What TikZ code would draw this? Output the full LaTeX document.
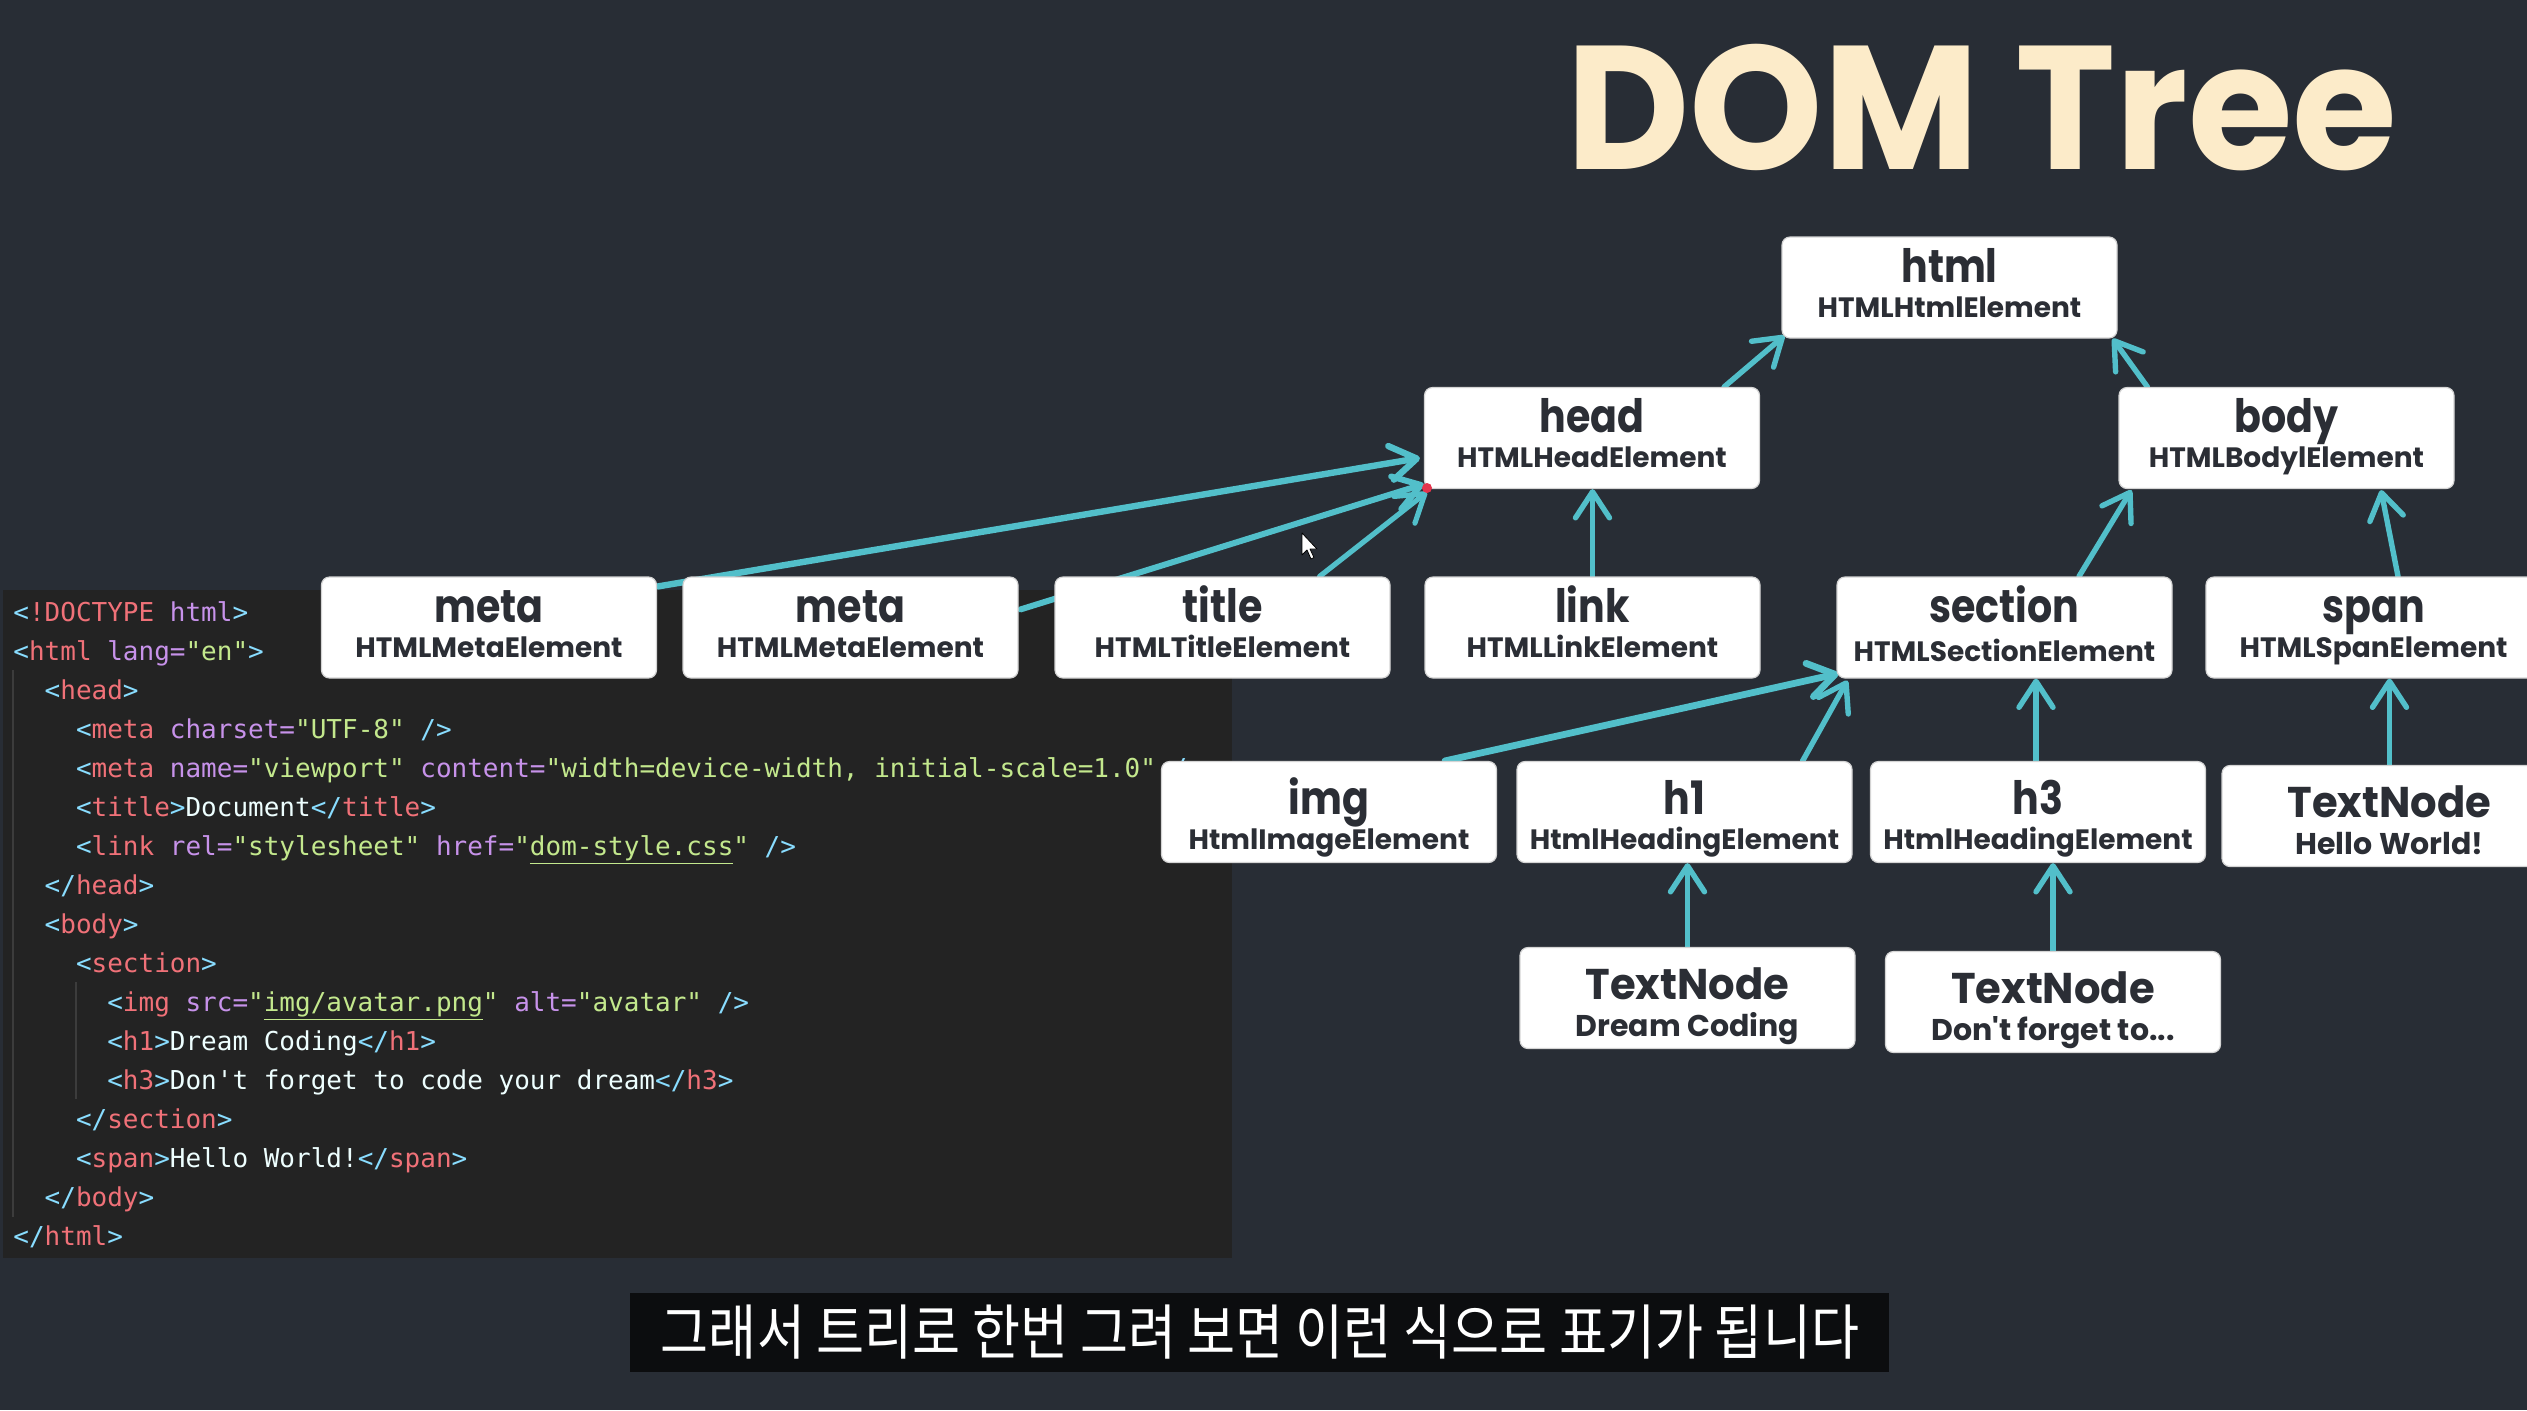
\documentclass[tikz,border=0pt]{standalone}
\usepackage{fontspec}
\usepackage{graphicx}
\usetikzlibrary{arrows.meta,calc}
\newfontfamily\popfont{Poppins}
\newfontfamily\codefont{DejaVu Sans Mono}
\newfontfamily\krfont{Noto Sans CJK KR}
\definecolor{bgc}{HTML}{282D35}
\definecolor{panelc}{HTML}{232323}
\definecolor{arrowc}{HTML}{52BFCA}
\definecolor{boxtxt}{HTML}{2B2E35}
\definecolor{boxedge}{HTML}{D4D4D4}
\definecolor{titlec}{HTML}{FCEBC9}
\definecolor{subbg}{HTML}{0C0D0F}
\definecolor{cBr}{HTML}{89DDFF}
\definecolor{cTag}{HTML}{F07178}
\definecolor{cAtt}{HTML}{C792EA}
\definecolor{cStr}{HTML}{C3E88D}
\definecolor{cTxt}{HTML}{EEFFFF}
\definecolor{guidec}{HTML}{3C3C3C}
\definecolor{reddot}{HTML}{E3344C}
\newcommand\kB[1]{\textcolor{cBr}{#1}}
\newcommand\kT[1]{\textcolor{cTag}{#1}}
\newcommand\kA[1]{\textcolor{cAtt}{#1}}
\newcommand\kS[1]{\textcolor{cStr}{#1}}
\newcommand\kW[1]{\textcolor{cTxt}{#1}}
\pgfdeclarelayer{bglayer}
\pgfdeclarelayer{arrowlayer}
\pgfsetlayers{bglayer,arrowlayer,main}
\tikzset{
  dbox/.style={fill=white, draw=boxedge, line width=0.6pt, rounded corners=4pt,
    minimum width=167.5pt, minimum height=50.5pt, inner sep=0pt},
  mainlbl/.style={anchor=base, inner sep=0pt, text=boxtxt,
    font=\popfont\bfseries\fontsize{23pt}{23pt}\selectfont},
  sublbl/.style={anchor=base, inner sep=0pt, text=boxtxt,
    font=\popfont\bfseries\fontsize{14pt}{14pt}\selectfont},
  tnlbl/.style={anchor=base, inner sep=0pt, text=boxtxt,
    font=\popfont\bfseries\fontsize{21.5pt}{21.5pt}\selectfont},
  tnsub/.style={anchor=base, inner sep=0pt, text=boxtxt,
    font=\popfont\bfseries\fontsize{15pt}{15pt}\selectfont},
  codeln/.style={anchor=base west, inner sep=0pt,
    font=\codefont\fontsize{13pt}{13pt}\selectfont},
  arr/.style={draw=arrowc, line width=2.7pt, line cap=round, line join=round,
    -{Straight Barb[length=13pt,width=17pt,round]}},
}
% optional arg 1: main baseline offset, 2: sub baseline offset
\newcommand\mkel[7][46]{%
  \node[dbox] (#3) at (#4,#5) {};
  \node[mainlbl] (#3-m) at ($(#3.north)+(0,#1)$) {\scalebox{0.86}[1]{#6}};
  \node[sublbl] (#3-s) at ($(#3.north)+(0,#2)$) {#7};
}
\newcommand\mktn[4]{%
  \node[dbox] (#1) at (#2,#3) {};
  \node[tnlbl] (#1-m) at ($(#1.north)+(0,53)$) {\scalebox{0.97}[1]{TextNode}};
  \node[tnsub] (#1-s) at ($(#1.north)+(0,90)$) {#4};
}
\begin{document}
\begin{tikzpicture}[x=0.5pt,y=-0.5pt]
\useasboundingbox (0,0) rectangle (2527,1410);
\begin{pgfonlayer}{bglayer}
\fill[bgc] (0,0) rectangle (2527,1410);
\fill[panelc] (3,590) rectangle (1232,1258);
\draw[guidec, line width=1pt] (13,670) -- (13,1217);
\draw[guidec, line width=1pt] (76,982) -- (76,1099);
\node[codeln] (c1) at (13,621) {\kB{<}\kT{!DOCTYPE} \kA{html}\kB{>}};
\node[codeln] (c2) at (13,660) {\kB{<}\kT{html} \kA{lang=}\kS{"en"}\kB{>}};
\node[codeln] (c3) at (44.3,699) {\kB{<}\kT{head}\kB{>}};
\node[codeln] (c4) at (75.6,738) {\kB{<}\kT{meta} \kA{charset=}\kS{"UTF-8"} \kB{/>}};
\node[codeln] (c5) at (75.6,777) {\kB{<}\kT{meta} \kA{name=}\kS{"viewport"} \kA{content=}\kS{"width=device-width, initial-scale=1.0"} \kB{/>}};
\node[codeln] (c6) at (75.6,816) {\kB{<}\kT{title}\kB{>}\kW{Document}\kB{</}\kT{title}\kB{>}};
\node[codeln] (c7) at (75.6,855) {\kB{<}\kT{link} \kA{rel=}\kS{"stylesheet"} \kA{href=}\kS{"\underline{dom-style.css}"} \kB{/>}};
\node[codeln] (c8) at (44.3,894) {\kB{</}\kT{head}\kB{>}};
\node[codeln] (c9) at (44.3,933) {\kB{<}\kT{body}\kB{>}};
\node[codeln] (c10) at (75.6,972) {\kB{<}\kT{section}\kB{>}};
\node[codeln] (c11) at (106.9,1011) {\kB{<}\kT{img} \kA{src=}\kS{"\underline{img/avatar.png}"} \kA{alt=}\kS{"avatar"} \kB{/>}};
\node[codeln] (c12) at (106.9,1050) {\kB{<}\kT{h1}\kB{>}\kW{Dream Coding}\kB{</}\kT{h1}\kB{>}};
\node[codeln] (c13) at (106.9,1089) {\kB{<}\kT{h3}\kB{>}\kW{Don't forget to code your dream}\kB{</}\kT{h3}\kB{>}};
\node[codeln] (c14) at (75.6,1128) {\kB{</}\kT{section}\kB{>}};
\node[codeln] (c15) at (75.6,1167) {\kB{<}\kT{span}\kB{>}\kW{Hello World!}\kB{</}\kT{span}\kB{>}};
\node[codeln] (c16) at (44.3,1206) {\kB{</}\kT{body}\kB{>}};
\node[codeln] (c17) at (13,1245) {\kB{</}\kT{html}\kB{>}};
\end{pgfonlayer}
% title
\node[anchor=base west, inner sep=0pt, text=titlec, font=\popfont\bfseries\fontsize{88pt}{88pt}\selectfont] (ttl) at (1566,169) {\scalebox{0.965}[1]{DOM Tree}};
% boxes
\mkel{81}{html}{1949.5}{287.5}{html}{HTMLHtmlElement}
\mkel{81}{head}{1592}{438}{head}{HTMLHeadElement}
\mkel{81}{body}{2286.5}{438}{body}{HTMLBodylElement}
\mkel{81}{meta1}{489}{627.5}{meta}{HTMLMetaElement}
\mkel{81}{meta2}{850.5}{627.5}{meta}{HTMLMetaElement}
\mkel{81}{title}{1222.5}{627.5}{title}{HTMLTitleElement}
\mkel{81}{link}{1592.5}{627.5}{link}{HTMLLinkElement}
\mkel{85}{section}{2004.5}{627.5}{section}{HTMLSectionElement}
\mkel{81}{span}{2373.5}{627.5}{span}{HTMLSpanElement}
\mkel[54]{89}{img}{1329}{812}{img}{HtmlImageElement}
\mkel[54]{89}{h1}{1684.5}{812}{h1}{HtmlHeadingElement}
\mkel[54]{89}{h3}{2038}{812}{h3}{HtmlHeadingElement}
\mktn{hello}{2389.5}{816}{Hello World!}
\mktn{dream}{1687.5}{998}{Dream Coding}
\mktn{dont}{2053}{1002}{Don't forget to...}
% connectors
\begin{pgfonlayer}{arrowlayer}
\draw[arr, line width=3.2pt] ($(meta1.north east)+(1,10)$) -- ($(head.west)+(-4,20)$);
\draw[arr, line width=3pt] ($(meta2.north east)+(2,33)$) -- ($(head.south west)+(0,-5)$);
\draw[arr, line width=2.6pt] ($(title.north east)+(-71,0)$) -- ($(head.south west)+(3,3)$);
\draw[arr] ($(head.north east)+(-36,0)$) -- ($(html.south west)+(3,-3)$);
\draw[arr] ($(body.north west)+(29,0)$) -- ($(html.south east)+(-5,0)$);
\draw[arr] (link.north) -- (link.north |- head.south);
\draw[arr] ($(section.north)+(74.5,0)$) -- ($(body.south west)+(13,1)$);
\draw[arr] ($(span.north)+(24.5,0)$) -- ($(body.south)+(94.5,1)$);
\draw[arr, line width=3.4pt] ($(img.north)+(116,0)$) -- ($(section.south west)+(2,-5)$);
\draw[arr] ($(h1.north east)+(-50,0)$) -- ($(section.south west)+(11,2)$);
\draw[arr] ($(h3.north)+(-2,0)$) -- ($(section.south)+(31.5,0)$);
\draw[arr] (hello.north) -- (hello.north |- span.south);
\draw[arr] (dream.north) -- (dream.north |- h1.south);
\draw[arr] (dont.north) -- (dont.north |- h3.south);
\end{pgfonlayer}
\fill[reddot] (1427,488) circle[radius=2.5pt];
\draw[fill=white, draw=black, line width=0.4pt, line join=round] (1302,533) -- ++(0,22) -- ++(5,-5) -- ++(4,9) -- ++(3,-1.5) -- ++(-4,-8.5) -- ++(7,0) -- cycle;
% subtitle
\node[fill=subbg, minimum width=629.5pt, minimum height=39.5pt, inner sep=0pt] (subbox) at (1259.5,1332.5) {};
\node[inner sep=0pt, text=white] (subtxt) at (1260,1332) {\scalebox{0.87}[1]{\krfont\fontsize{30pt}{30pt}\selectfont 그래서 트리로 한번 그려 보면 이런 식으로 표기가 됩니다}};
\end{tikzpicture}
\end{document}
